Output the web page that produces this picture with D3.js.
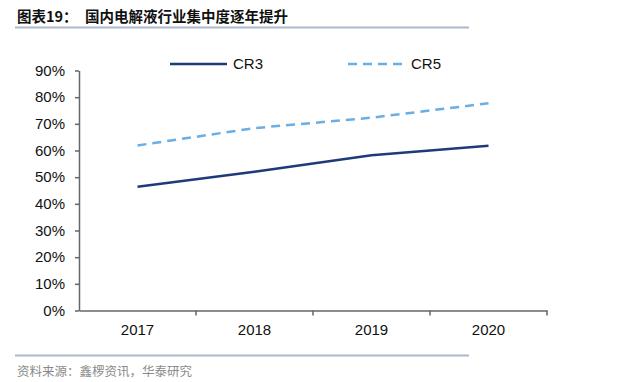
<!DOCTYPE html>
<html><head><meta charset="utf-8">
<script src="https://cdn.jsdelivr.net/npm/d3@7"></script>
<style>body{margin:0;background:#fff}svg{display:block}</style>
</head><body>
<svg id="c" width="640" height="382"></svg>
<script>
const categories = ["2017","2018","2019","2020"];
const cr3 = [46.4, 52.0, 58.2, 61.8];
const cr5 = [61.9, 68.4, 72.3, 77.7];
const yTicks = [0,10,20,30,40,50,60,70,80,90];
const seriesNames = ["CR3","CR5"];
const titleText = "图表19：";
const titleMain = "国内电解液行业集中度逐年提升";
const sourceText = "资料来源：鑫椤资讯，华泰研究";

(function(){
const svg = d3.select("#c");
const pLeft = 79, pRight = 547, pTop = 70.5, pBottom = 310.5;
const x = d3.scaleBand().domain(categories).range([pLeft, pRight]);
const y = d3.scaleLinear().domain([0, 90]).range([pBottom, pTop]);

// title
svg.append("text").attr("x",17).attr("y",22).attr("font-family","Noto Sans CJK SC").attr("font-weight","bold").attr("font-size",14.5).attr("fill","#111").text(titleText);
svg.append("text").attr("x",85).attr("y",22).attr("font-family","Noto Sans CJK SC").attr("font-weight","bold").attr("font-size",14.5).attr("fill","#111").text(titleMain);
svg.append("line").attr("x1",15).attr("x2",469).attr("y1",27.5).attr("y2",27.5).attr("stroke","#a9b8cc").attr("stroke-width",2);

// bottom
svg.append("line").attr("x1",15).attr("x2",469).attr("y1",355.5).attr("y2",355.5).attr("stroke","#a9b8cc").attr("stroke-width",2);
svg.append("text").attr("x",17).attr("y",376).attr("font-family","Noto Sans CJK SC").attr("font-size",12.5).attr("fill","#8a8a8a").text(sourceText);

// axes
const yAxis = d3.axisLeft(y).tickValues(yTicks).tickFormat(d => d + "%").tickSize(4).tickSizeOuter(0);
const gy = svg.append("g").attr("transform",`translate(${pLeft},0)`).call(yAxis);
gy.selectAll("path,line").attr("stroke","#666").attr("stroke-width",1.5);
gy.selectAll("text").attr("font-family","Liberation Sans, Arial").attr("font-size",15).attr("fill","#111").attr("x",-14);

const xAxis = d3.axisBottom(x).tickSize(0).tickSizeOuter(0);
const gx = svg.append("g").attr("transform",`translate(0,${pBottom})`).call(xAxis);
gx.select("path").attr("stroke","#666").attr("stroke-width",1.5);
gx.selectAll("text").attr("font-family","Liberation Sans, Arial").attr("font-size",15).attr("fill","#111").attr("dy","1.45em");
const bounds = categories.map(c => x(c) + x.bandwidth());
svg.append("g").selectAll("line").data(bounds).join("line")
  .attr("x1",d=>d).attr("x2",d=>d).attr("y1",pBottom).attr("y2",pBottom+5)
  .attr("stroke","#666").attr("stroke-width",1.5);

const line = d3.line().x((d,i)=>x(categories[i]) + x.bandwidth()/2).y(d=>y(d));
svg.append("path").datum(cr3).attr("d",line).attr("fill","none").attr("stroke","#1f3a7a").attr("stroke-width",2.5);
svg.append("path").datum(cr5).attr("d",line).attr("fill","none").attr("stroke","#6aaee6").attr("stroke-width",2.5).attr("stroke-dasharray","9,6");

// legend
svg.append("line").attr("x1",170).attr("x2",227).attr("y1",64).attr("y2",64).attr("stroke","#1f3a7a").attr("stroke-width",2.5);
svg.append("text").attr("x",233).attr("y",69).attr("font-family","Liberation Sans, Arial").attr("font-size",15).attr("fill","#111").text(seriesNames[0]);
svg.append("line").attr("x1",348).attr("x2",402).attr("y1",64).attr("y2",64).attr("stroke","#6aaee6").attr("stroke-width",2.5).attr("stroke-dasharray","9,6");
svg.append("text").attr("x",411).attr("y",69).attr("font-family","Liberation Sans, Arial").attr("font-size",15).attr("fill","#111").text(seriesNames[1]);
})();
</script>
</body></html>
